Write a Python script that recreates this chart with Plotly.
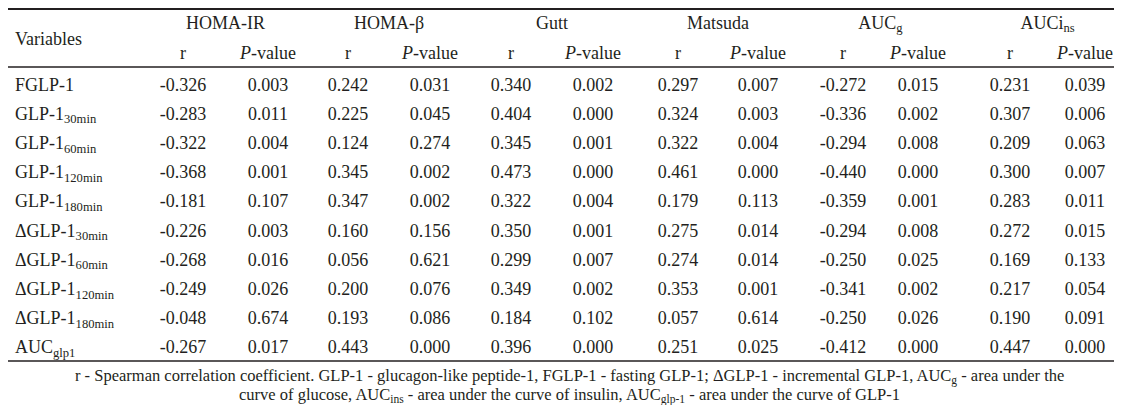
"""
Spearman correlations of GLP-1 measures with insulin indices, drawn as a table
"""

import plotly.graph_objects as go

VARIABLES = ["FGLP-1",
             "GLP-1<sub>30min</sub>",
             "GLP-1<sub>60min</sub>",
             "GLP-1<sub>120min</sub>",
             "GLP-1<sub>180min</sub>",
             "ΔGLP-1<sub>30min</sub>",
             "ΔGLP-1<sub>60min</sub>",
             "ΔGLP-1<sub>120min</sub>",
             "ΔGLP-1<sub>180min</sub>",
             "AUC<sub>glp1</sub>"]
GROUPS = ["HOMA-IR", "HOMA-β", "Gutt", "Matsuda",
          "AUC<sub>g</sub>", "AUCi<sub>ns</sub>"]
SUBHEADS = ["r", "<i>P</i>-value"]

HOMA_IR_R = [-0.326, -0.283, -0.322, -0.368, -0.181, -0.226, -0.268, -0.249, -0.048, -0.267]
HOMA_IR_P = [0.003, 0.011, 0.004, 0.001, 0.107, 0.003, 0.016, 0.026, 0.674, 0.017]
HOMA_B_R = [0.242, 0.225, 0.124, 0.345, 0.347, 0.160, 0.056, 0.200, 0.193, 0.443]
HOMA_B_P = [0.031, 0.045, 0.274, 0.002, 0.002, 0.156, 0.621, 0.076, 0.086, 0.000]
GUTT_R = [0.340, 0.404, 0.345, 0.473, 0.322, 0.350, 0.299, 0.349, 0.184, 0.396]
GUTT_P = [0.002, 0.000, 0.001, 0.000, 0.004, 0.001, 0.007, 0.002, 0.102, 0.000]
MATSUDA_R = [0.297, 0.324, 0.322, 0.461, 0.179, 0.275, 0.274, 0.353, 0.057, 0.251]
MATSUDA_P = [0.007, 0.003, 0.004, 0.000, 0.113, 0.014, 0.014, 0.001, 0.614, 0.025]
AUCG_R = [-0.272, -0.336, -0.294, -0.440, -0.359, -0.294, -0.250, -0.341, -0.250, -0.412]
AUCG_P = [0.015, 0.002, 0.008, 0.000, 0.001, 0.008, 0.025, 0.002, 0.026, 0.000]
AUCINS_R = [0.231, 0.307, 0.209, 0.300, 0.283, 0.272, 0.169, 0.217, 0.190, 0.447]
AUCINS_P = [0.039, 0.006, 0.063, 0.007, 0.011, 0.015, 0.133, 0.054, 0.091, 0.000]

FOOTNOTE = ["r - Spearman correlation coefficient. GLP-1 - glucagon-like peptide-1, "
            "FGLP-1 - fasting GLP-1; ΔGLP-1 - incremental GLP-1, AUC<sub>g</sub> - area under the",
            "curve of glucose, AUC<sub>ins</sub> - area under the curve of insulin, "
            "AUC<sub>glp-1</sub> - area under the curve of GLP-1"]

COLUMNS = [HOMA_IR_R, HOMA_IR_P, HOMA_B_R, HOMA_B_P, GUTT_R, GUTT_P,
           MATSUDA_R, MATSUDA_P, AUCG_R, AUCG_P, AUCINS_R, AUCINS_P]

# layout in pixels (axes are set 1:1 with the page)
W, H = 1122, 405
COL_X = [175, 260, 340, 422, 503, 585, 670, 750, 835, 910, 1002, 1077]
ROW0, ROW_H = 78, 29.2
FONT = "Liberation Serif"
INK = "#231f20"
SIZE = 18

row_y = [ROW0 + ROW_H * i for i in range(len(VARIABLES))]

fig = go.Figure()

fig.add_trace(go.Scatter(x=[7] * len(VARIABLES), y=row_y, text=VARIABLES,
                         mode="text", textposition="middle right",
                         textfont=dict(family=FONT, size=SIZE, color=INK),
                         hoverinfo="skip"))

for cx, values in zip(COL_X, COLUMNS):
    fig.add_trace(go.Scatter(x=[cx] * len(values), y=row_y,
                             text=[f"{v:.3f}" for v in values],
                             mode="text", textposition="middle center",
                             textfont=dict(family=FONT, size=SIZE, color=INK),
                             hoverinfo="skip"))

# group headers and sub headers
group_x = [(COL_X[2 * i] + COL_X[2 * i + 1]) / 2 for i in range(len(GROUPS))]
fig.add_trace(go.Scatter(x=group_x, y=[16] * len(GROUPS), text=GROUPS,
                         mode="text", textposition="middle center",
                         textfont=dict(family=FONT, size=SIZE, color=INK),
                         hoverinfo="skip"))
fig.add_trace(go.Scatter(x=COL_X, y=[46] * len(COL_X),
                         text=SUBHEADS * len(GROUPS),
                         mode="text", textposition="middle center",
                         textfont=dict(family=FONT, size=SIZE, color=INK),
                         hoverinfo="skip"))
fig.add_trace(go.Scatter(x=[7], y=[32], text=["Variables"],
                         mode="text", textposition="middle right",
                         textfont=dict(family=FONT, size=SIZE, color=INK),
                         hoverinfo="skip"))

# footnote, one annotation per line to keep the tight spacing
for line, fy in zip(FOOTNOTE, [368, 387]):
    fig.add_annotation(x=W / 2, y=fy, text=line, showarrow=False,
                       xanchor="center", yanchor="middle", align="center",
                       font=dict(family=FONT, size=16.5, color=INK))

for y, lw in [(1, 2), (59, 1.5), (353, 1.5), (403, 1.5)]:
    fig.add_shape(type="line", x0=0, x1=W, y0=y, y1=y,
                  line=dict(color=INK, width=lw))

fig.update_layout(width=W, height=H, margin=dict(l=0, r=0, t=0, b=0),
                  paper_bgcolor="white", plot_bgcolor="white",
                  showlegend=False,
                  xaxis=dict(range=[0, W], visible=False, fixedrange=True),
                  yaxis=dict(range=[H, 0], visible=False, fixedrange=True))

fig.write_html("out.html")
